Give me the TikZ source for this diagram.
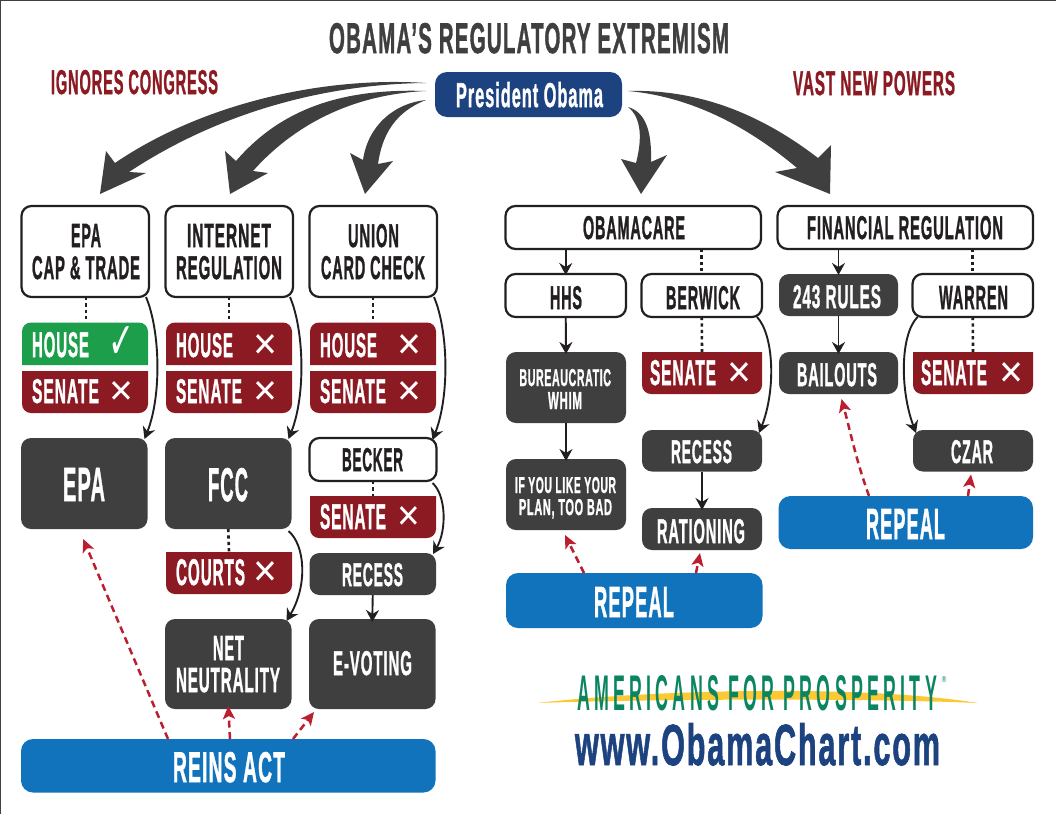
\documentclass[tikz,border=0pt]{standalone}
\usepackage{fontspec}
\usepackage{graphicx}
\usetikzlibrary{arrows.meta,calc}
\newfontfamily\bfnt[LetterSpace=6,FakeBold=1.6]{Liberation Sans Bold}
\newfontfamily\lgfnt[LetterSpace=24]{Liberation Sans Bold}
\newfontfamily\symfnt{DejaVu Sans}
\definecolor{dk}{HTML}{3F3F3F}
\definecolor{ink}{HTML}{231F20}
\definecolor{maroon}{HTML}{8B1A22}
\definecolor{grn}{HTML}{1C9E4B}
\definecolor{blu}{HTML}{1173BC}
\definecolor{navy}{HTML}{1D4280}
\definecolor{redd}{HTML}{BB1E2F}
\definecolor{logog}{HTML}{0B8561}
\definecolor{gold}{HTML}{FCC935}
\tikzset{
  whitebox/.style={draw=ink,fill=white,line width=2.2pt,rounded corners=10pt},
  darkbox/.style={fill=dk,rounded corners=10pt},
  bluebox/.style={fill=blu,rounded corners=12pt},
  navybox/.style={fill=navy,rounded corners=12pt},
  solidarrow/.style={draw=ink,line width=1.9pt,-{Stealth[length=12pt,width=13pt,inset=4pt]}},
  dotlink/.style={draw=ink,line width=2.6pt,dash pattern=on 3.2pt off 3.2pt},
  redarrow/.style={draw=redd,line width=2.5pt,dash pattern=on 7pt off 4.5pt,-{Stealth[length=13pt,width=12pt,inset=3pt]}},
  bigarrow/.style={fill=dk},
}
% name, style, x0, x1, y0, y1
\newcommand\bx[6]{\pgfmathsetmacro\bw{#4-#3}\pgfmathsetmacro\bh{#6-#5}%
  \node[#2,inner sep=0pt,outer sep=0pt,minimum width=\bw pt,minimum height=\bh pt] (#1) at ({(#3+#4)/2},{(#5+#6)/2}) {};}
% top-rounded panel
\newcommand\topbx[6]{\bx{#1}{}{#3}{#4}{#5}{#6}%
  \fill[#2] (#1.south west) [rounded corners=9pt] -- (#1.north west) -- (#1.north east) [sharp corners] -- (#1.south east) -- cycle;}
% bottom-rounded panel
\newcommand\botbx[6]{\bx{#1}{}{#3}{#4}{#5}{#6}%
  \fill[#2] (#1.north west) [rounded corners=9pt] -- (#1.south west) -- (#1.south east) [sharp corners] -- (#1.north east) -- cycle;}
% name, x0, x1, y0, y1(baseline), colour, text
\newcommand\lbl[7]{\pgfmathsetmacro\lw{#3-#2}\pgfmathsetmacro\lh{#5-#4}%
  \node[inner sep=0pt,outer sep=0pt,anchor=base west,text=#6] (#1) at (#2,#5) {\resizebox{\lw pt}{\lh pt}{\bfnt #7}};}
% symbol: width is widened because the glyph has side bearings
\newcommand\sym[7]{\pgfmathsetmacro\lw{(#3-#2)*1.3}\pgfmathsetmacro\lh{#5-#4}\pgfmathsetmacro\lx{#2-(#3-#2)*0.15}%
  \node[inner sep=0pt,outer sep=0pt,anchor=base west,text=#6] (#1) at (\lx,#5) {\resizebox{\lw pt}{\lh pt}{\symfnt #7}};}
\begin{document}
\begin{tikzpicture}[x=1pt,y=-1pt]
\useasboundingbox (0,0) rectangle (1056,814);
\fill[white] (0,0) rectangle (1056,814);
\draw[dk,line width=1.2pt] (0.5,814) -- (0.5,0.5) -- (1056,0.5);

% titles
\lbl{title}{329}{729}{23}{53}{dk}{OBAMA’S REGULATORY EXTREMISM}
\lbl{ign}{51}{218}{70}{94}{maroon}{IGNORES CONGRESS}
\lbl{vast}{793}{955}{71}{95}{maroon}{VAST NEW POWERS}

% president
\bx{pres}{navybox}{435}{622}{72}{117}
\lbl{prest}{456}{603}{82}{107}{white}{President Obama}

% left column boxes
\bx{capbox}{whitebox}{21.5}{149}{206}{297}
\lbl{capa}{71}{101}{224}{247}{ink}{EPA}
\lbl{capb}{32}{140}{256}{279}{ink}{CAP \& TRADE}
\bx{netbox}{whitebox}{165.5}{293}{206}{297}
\lbl{neta}{187}{271}{224}{247}{ink}{INTERNET}
\lbl{netb}{176}{282}{256}{279}{ink}{REGULATION}
\bx{unibox}{whitebox}{309.5}{437}{206}{297}
\lbl{unia}{348}{399}{224}{247}{ink}{UNION}
\lbl{unib}{321}{425}{256}{279}{ink}{CARD CHECK}

\topbx{h1}{grn}{22}{148}{322.5}{365}
\lbl{h1t}{32}{89}{332}{357}{white}{HOUSE}
\sym{h1s}{111}{131}{326}{358}{white}{✓}
\botbx{s1b}{maroon}{22}{148}{371}{413}
\lbl{s1t}{32}{99}{379}{403}{white}{SENATE}
\sym{s1s}{111}{131}{381}{402}{white}{✕}

\topbx{h2}{maroon}{166}{292}{322.5}{365}
\lbl{h2t}{176}{233}{333}{357}{white}{HOUSE}
\sym{h2s}{255}{275}{334}{356}{white}{✕}
\botbx{s2b}{maroon}{166}{292}{371}{413}
\lbl{s2t}{176}{242}{379}{403}{white}{SENATE}
\sym{s2s}{255}{275}{381}{402}{white}{✕}

\topbx{h3}{maroon}{310}{436}{322.5}{365}
\lbl{h3t}{320}{377}{333}{357}{white}{HOUSE}
\sym{h3s}{399}{419}{334}{356}{white}{✕}
\botbx{s3b}{maroon}{310}{436}{371}{413}
\lbl{s3t}{320}{386}{379}{403}{white}{SENATE}
\sym{s3s}{399}{419}{381}{402}{white}{✕}

\bx{epa}{darkbox}{21}{147.5}{438}{529}
\lbl{epat}{63}{105}{468}{501}{white}{EPA}
\bx{fcc}{darkbox}{165}{291.5}{438}{529}
\lbl{fcct}{208}{248}{468}{501}{white}{FCC}
\bx{beck}{whitebox}{309.5}{436.5}{438}{481}
\lbl{beckt}{342}{403}{448}{471}{ink}{BECKER}
\botbx{s4b}{maroon}{310}{436}{496}{538}
\lbl{s4t}{320}{386}{504}{529}{white}{SENATE}
\sym{s4s}{399}{418}{506}{527}{white}{✕}
\botbx{crt}{maroon}{166}{292}{552}{594}
\lbl{crtt}{176}{245}{559}{585}{white}{COURTS}
\sym{crts}{255}{275}{561}{583}{white}{✕}
\bx{rec}{darkbox}{309.5}{436}{553}{595}
\lbl{rect}{342}{403}{563}{586}{white}{RECESS}
\bx{nn}{darkbox}{165}{291.5}{619}{709}
\lbl{nna}{213}{244}{636}{660}{white}{NET}
\lbl{nnb}{176}{280}{668}{692}{white}{NEUTRALITY}
\bx{ev}{darkbox}{309}{435.5}{619}{709}
\lbl{evt}{333}{412}{651}{675}{white}{E-VOTING}
\bx{reins}{bluebox}{21}{435.5}{739}{792.5}
\lbl{reinst}{173}{285}{752}{782}{white}{REINS ACT}

% right groups
\bx{oc}{whitebox}{505.5}{761}{206}{249}
\lbl{oct}{583}{685}{216}{239}{ink}{OBAMACARE}
\bx{fr}{whitebox}{777.5}{1033}{206}{249}
\lbl{frt}{807}{1003}{216}{239}{ink}{FINANCIAL REGULATION}
\bx{hhs}{whitebox}{505.5}{626}{274}{317}
\lbl{hhst}{550}{582}{286}{309}{ink}{HHS}
\bx{ber}{whitebox}{641.5}{762}{274}{317}
\lbl{bert}{666}{740}{286}{309}{ink}{BERWICK}
\bx{rul}{darkbox}{779}{898}{274}{316}
\lbl{rult}{793}{881}{285}{308}{white}{243 RULES}
\bx{war}{whitebox}{912.5}{1033}{274}{317}
\lbl{wart}{939}{1008}{286}{309}{ink}{WARREN}
\bx{bur}{darkbox}{506}{626}{352}{423}
\lbl{bura}{519.5}{611}{369}{386}{white}{BUREAUCRATIC}
\lbl{burb}{548}{582}{392}{409}{white}{WHIM}
\bx{ify}{darkbox}{506}{626}{459}{530}
\lbl{ifya}{515}{616}{477}{493}{white}{IF YOU LIKE YOUR}
\lbl{ifyb}{519}{612}{499}{515}{white}{PLAN, TOO BAD}
\botbx{s5b}{maroon}{642}{762}{352}{394}
\lbl{s5t}{650}{716}{360}{385}{white}{SENATE}
\sym{s5s}{729}{749}{362}{384}{white}{✕}
\bx{rc2}{darkbox}{642}{762}{430}{471.5}
\lbl{rc2t}{671}{732}{440}{463}{white}{RECESS}
\bx{rat}{darkbox}{642}{762}{508}{550}
\lbl{ratt}{657}{745}{519}{543}{white}{RATIONING}
\bx{bai}{darkbox}{779}{898}{352}{394}
\lbl{bait}{797}{877}{363}{386}{white}{BAILOUTS}
\botbx{s6b}{maroon}{913}{1033}{352}{394}
\lbl{s6t}{921}{987}{360}{385}{white}{SENATE}
\sym{s6s}{1001}{1021}{362}{384}{white}{✕}
\bx{czar}{darkbox}{913}{1033}{430}{471.5}
\lbl{czart}{951}{993}{440}{463}{white}{CZAR}
\bx{rp1}{bluebox}{506}{762.5}{573}{628}
\lbl{rp1t}{594}{674}{587}{617}{white}{REPEAL}
\bx{rp2}{bluebox}{778.5}{1033}{496}{549}
\lbl{rp2t}{866}{945}{509}{539}{white}{REPEAL}

% dotted links
\draw[dotlink] (capbox.south -| capa) -- (h1.north -| capa);
\draw[dotlink] (netbox.south -| h2) -- (h2.north);
\draw[dotlink] (unibox.south -| h3) -- (h3.north);
\draw[dotlink] (beck.south) -- (s4b.north);
\draw[dotlink] (fcc.south) -- (crt.north);
\draw[dotlink] (ber.south) -- (s5b.north);
\draw[dotlink] (war.south) -- (s6b.north);
\draw[dotlink] (fr.south -| war) -- (war.north);
\draw[dotlink] (oc.south -| ber) -- (ber.north);

% solid arrows
\draw[solidarrow] (oc.south -| hhs) -- ([yshift=-1pt]hhs.north);
\draw[solidarrow] (fr.south -| rul) -- ([yshift=-1pt]rul.north);
\draw[solidarrow] (hhs.south) -- ([yshift=-2pt]bur.north);
\draw[solidarrow] (bur.south) -- ([yshift=-2pt]ify.north);
\draw[solidarrow] (rc2.south) -- ([yshift=-2pt]rat.north);
\draw[solidarrow] (rul.south) -- ([yshift=-2pt]bai.north);
\draw[solidarrow] (rec.south) -- ([yshift=-3pt]ev.north);

% curved arrows
\draw[solidarrow] ([xshift=-3pt]capbox.south east) .. controls (160,330) and (162,395) .. ([xshift=-3pt,yshift=-1pt]epa.north east);
\draw[solidarrow] ([xshift=-3pt]netbox.south east) .. controls (304,330) and (306,395) .. ([xshift=-3pt,yshift=-1pt]fcc.north east);
\draw[solidarrow] ([xshift=-3pt]unibox.south east) .. controls (448,330) and (450,395) .. ([xshift=-4pt,yshift=-2pt]beck.north east);
\draw[solidarrow] ([xshift=-3pt,yshift=-2pt]fcc.south east) .. controls (305,545) and (308,585) .. ([xshift=-5pt,yshift=-2pt]nn.north east);
\draw[solidarrow] ([xshift=-4pt,yshift=-2pt]beck.south east) .. controls (446,495) and (447,530) .. ([xshift=-3pt,yshift=-1pt]rec.north east);
\draw[solidarrow] ([xshift=-5pt]ber.south east) .. controls (774,335) and (776,390) .. ([xshift=-3pt,yshift=-3pt]rc2.north east);
\draw[solidarrow] ([xshift=5pt]war.south west) .. controls (900,335) and (900,390) .. ([xshift=3pt,yshift=-3pt]czar.north west);

% red repeal arrows
\coordinate (r1) at (168,739);
\coordinate (r2) at (230,739);
\coordinate (r3) at (293,739);
\coordinate (r4) at (584,573);
\coordinate (r5) at (696,573);
\coordinate (r6) at (869,496);
\coordinate (r7) at (968,496);
\draw[redarrow] (r1) -- ([shift={(-1,10)}]epa.south);
\draw[redarrow] (r2) -- ([yshift=3pt]nn.south);
\draw[redarrow] (r3) -- ([shift={(5,3)}]ev.south west);
\draw[redarrow] (r4) -- ([shift={(-1,5)}]ify.south);
\draw[redarrow] (r5) -- ([shift={(-2,3)}]rat.south);
\draw[redarrow] (r6) .. controls (856,460) and (850,430) .. ([shift={(3,5)}]bai.south);
\draw[redarrow] (r7) -- ([shift={(-2,3)}]czar.south);

% big arrows
\coordinate (s1) at (426,83);
\coordinate (t1) at (100,194);
\coordinate (s2) at (426,91);
\coordinate (t2) at (230,194);
\coordinate (s3) at (426,100);
\coordinate (t3) at (365,194);
\coordinate (s4) at (628,107);
\coordinate (t4) at (641,194);
\coordinate (s5) at (628,91);
\coordinate (t5) at (830,194);
\fill[bigarrow] (s1) .. controls (320,76) and (200,105) .. (115,163) -- (106,151) -- (t1) -- (146,173) -- (129,172) .. controls (215,115) and (320,84) .. (s1) -- cycle;
\fill[bigarrow] (s2) .. controls (340,88) and (280,110) .. (236,161) -- (225,151) -- (t2) -- (268,173) -- (253,171) .. controls (285,135) and (340,95) .. (s2) -- cycle;
\fill[bigarrow] (s3) .. controls (395,103) and (368,125) .. (363,160) -- (350,153) -- (t3) -- (393,161) -- (378,164) .. controls (382,135) and (395,112) .. (s3) -- cycle;
\fill[bigarrow] (s4) .. controls (645,112) and (652,130) .. (651,162) -- (667,155) -- (t4) -- (621,159) -- (636,163) .. controls (642,140) and (642,118) .. (s4) -- cycle;
\fill[bigarrow] (s5) .. controls (700,89) and (762,115) .. (818,158) -- (831,145) -- (t5) -- (775,172) -- (797,168) .. controls (752,130) and (695,97) .. (s5) -- cycle;

% logo
\fill[gold] (537,703) .. controls (650,690) and (860,684) .. (978,703) .. controls (860,698) and (650,699) .. (537,703) -- cycle;
\node[inner sep=0pt,outer sep=0pt,anchor=base west,text=logog] (afp) at (577,710) {\resizebox{360pt}{35pt}{\lgfnt AMERICANS FOR PROSPERITY}};
\node[inner sep=0pt,outer sep=0pt,anchor=base west,text=logog] (reg) at (941,682) {\resizebox{6pt}{6pt}{\symfnt ®}};
\lbl{url}{575}{940}{723}{765}{navy}{www.ObamaChart.com}
\end{tikzpicture}
\end{document}
